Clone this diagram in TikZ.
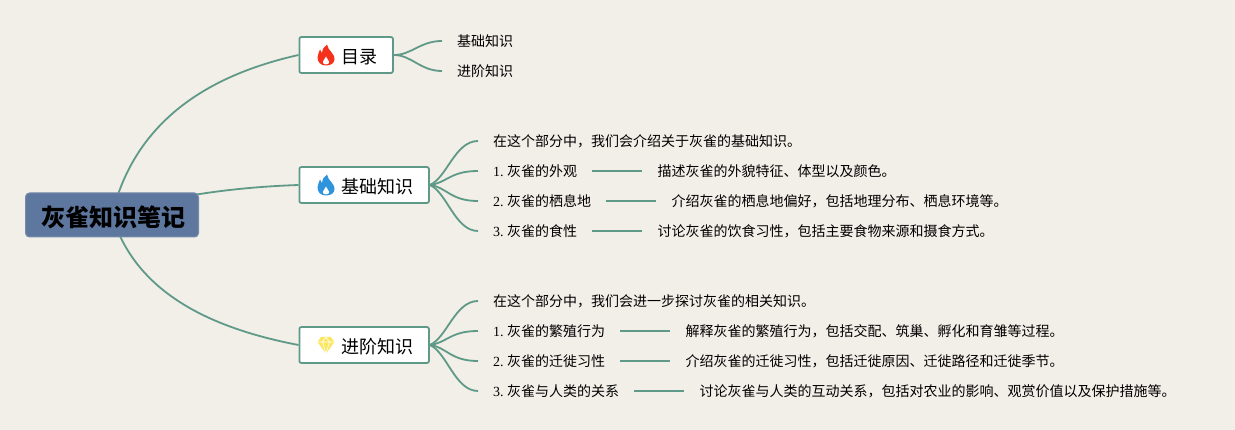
\documentclass[tikz,border=0pt]{standalone}
\usepackage{fontspec}
\setmainfont{Noto Sans CJK SC}
\newfontfamily\numfont{Liberation Serif}
\usetikzlibrary{positioning, backgrounds}
\definecolor{pagebg}{HTML}{F2EEE8}
\definecolor{linkgreen}{HTML}{5F9A88}
\definecolor{rootblue}{HTML}{5E779F}
\definecolor{flamered}{HTML}{F5311B}
\definecolor{flameblue}{HTML}{2E94DC}
\definecolor{gemyellow}{HTML}{FBE75F}
\newcommand{\itemno}[1]{{\numfont #1.\ }}
\newcommand{\branchtext}[1]{\hspace{27.5pt}#1\hspace{-3.5pt}}

\begin{document}
\begin{tikzpicture}[x=1pt, y=-1pt, node distance = 10mm and 50pt,
root/.style = {rectangle, rounded corners=4pt, draw=rootblue!85!white, fill=rootblue, line width=1pt,
inner sep=0pt, minimum width=173pt, minimum height=44pt, text height=26pt, text depth=3.8pt,
font=\fontsize{24}{28}\selectfont\bfseries},
branch/.style = {% first level box
rectangle, rounded corners=2pt, draw=linkgreen, fill=white, line width=1.8pt, anchor=west,
inner xsep=15pt, inner ysep=0pt, minimum height=36pt, text height=20pt, text depth=2.3pt,
font=\fontsize{18}{22}\selectfont},
leaf/.style = {% plain text, the connector stops 15pt off it
inner xsep=15pt, inner ysep=0pt, anchor=west, font=\fontsize{14}{17}\selectfont},
desc/.style = {leaf},
link/.style = {draw=linkgreen, line width=1.8pt},
flame/.pic = {
\fill[#1] (0,10.5) .. controls (-5.5,10.5) and (-8.5,7) .. (-8.5,2.5) .. controls (-8.5,-1) and (-6.5,-3) .. (-6,-5.5)
 .. controls (-5,-4.5) and (-4.5,-3.5) .. (-4,-2) .. controls (-3.5,-6) and (-2,-8.5) .. (1,-10.5)
 .. controls (1,-7) and (4,-5) .. (6,-2) .. controls (7.8,0) and (8.5,2) .. (8.5,4)
 .. controls (8.5,8) and (5,10.5) .. (0,10.5) -- cycle;
\fill[white] (0,9.5) .. controls (-2.5,9.5) and (-3.5,8) .. (-3,6.5) .. controls (-2.5,5) and (-1,4) .. (0,1.5)
 .. controls (1,4) and (2.5,5) .. (3,6.5) .. controls (3.5,8) and (2.5,9.5) .. (0,9.5) -- cycle;},
gem/.pic = {
\fill[gemyellow] (-5,-8) -- (5,-8) -- (8.5,-3) -- (0,8.5) -- (-8.5,-3) -- cycle;
\draw[white, line width=.6pt] (-8.5,-3) -- (8.5,-3) (-3.5,-3) -- (0,8.5) -- (3.5,-3)
 (-3.5,-3) -- (0,-8) -- (3.5,-3);}]
\useasboundingbox (0,0) rectangle (1235,430);
\begin{scope}[on background layer]
\fill[pagebg] (0,0) rectangle (1235,430);
\end{scope}
\node[root] (note) at (112,215) {\hspace{2pt}灰雀知识笔记};
% first level
\node[branch] (mulu) at (298.5,55) {\branchtext{目录}};
\node[branch] (jichu) at (298.5,185) {\branchtext{基础知识}};
\node[branch] (jinjie) at (298.5,345) {\branchtext{进阶知识}};
\pic at ([xshift=27.5pt]mulu.west) {flame=flamered};
\pic at ([xshift=27.5pt]jichu.west) {flame=flameblue};
\pic at ([xshift=27.5pt]jinjie.west) {gem};
% contents
\node[leaf] (ma) at (442,41) {基础知识};
\node[leaf] (mb) at (442,71) {进阶知识};
% basics
\node[leaf] (ja) at (478,141) {在这个部分中，我们会介绍关于灰雀的基础知识。};
\node[leaf] (jb) at (478,171) {\itemno{1}灰雀的外观};
\node[leaf] (jc) at (478,201) {\itemno{2}灰雀的栖息地};
\node[leaf] (jd) at (478,231) {\itemno{3}灰雀的食性};
\node[desc, right=of jb] (jbd) {描述灰雀的外貌特征、体型以及颜色。};
\node[desc, right=of jc] (jcd) {介绍灰雀的栖息地偏好，包括地理分布、栖息环境等。};
\node[desc, right=of jd] (jdd) {讨论灰雀的饮食习性，包括主要食物来源和摄食方式。};
% advanced
\node[leaf] (na) at (478,301) {在这个部分中，我们会进一步探讨灰雀的相关知识。};
\node[leaf] (nb) at (478,331) {\itemno{1}灰雀的繁殖行为};
\node[leaf] (nc) at (478,361) {\itemno{2}灰雀的迁徙习性};
\node[leaf] (nd) at (478,391) {\itemno{3}灰雀与人类的关系};
\node[desc, right=of nb] (nbd) {解释灰雀的繁殖行为，包括交配、筑巢、孵化和育雏等过程。};
\node[desc, right=of nc] (ncd) {介绍灰雀的迁徙习性，包括迁徙原因、迁徙路径和迁徙季节。};
\node[desc, right=of nd] (ndd) {讨论灰雀与人类的互动关系，包括对农业的影响、观赏价值以及保护措施等。};
% connectors, behind the boxes
\begin{scope}[on background layer]
\draw[link] (note.center) .. controls +(23,-95) and +(-89,20) .. (mulu.west);
\draw[link] (note.center) .. controls +(58,-20) and +(-59,2) .. (jichu.west);
\draw[link] (note.center) .. controls +(23,77) and +(-89,-17) .. (jinjie.west);
\draw[link] (mulu.east) .. controls +(18,0) and +(-22,0) .. (ma.west);
\draw[link] (mulu.east) .. controls +(18,0) and +(-22,0) .. (mb.west);
\foreach \from/\top/\upper/\lower/\bottom in {jichu/ja/jb/jc/jd, jinjie/na/nb/nc/nd} {
\draw[link] (\from.east) .. controls +(17,-7) and +(-23,0) .. (\top.west);
\draw[link] (\from.east) .. controls +(17,-2) and +(-28,0) .. (\upper.west);
\draw[link] (\from.east) .. controls +(17,2) and +(-28,0) .. (\lower.west);
\draw[link] (\from.east) .. controls +(17,7) and +(-23,0) .. (\bottom.west);
}
\end{scope}
% detail lines
\foreach \a/\b in {jb/jbd, jc/jcd, jd/jdd, nb/nbd, nc/ncd, nd/ndd}
\draw[link] (\a) -- (\b);
\end{tikzpicture}
\end{document}
